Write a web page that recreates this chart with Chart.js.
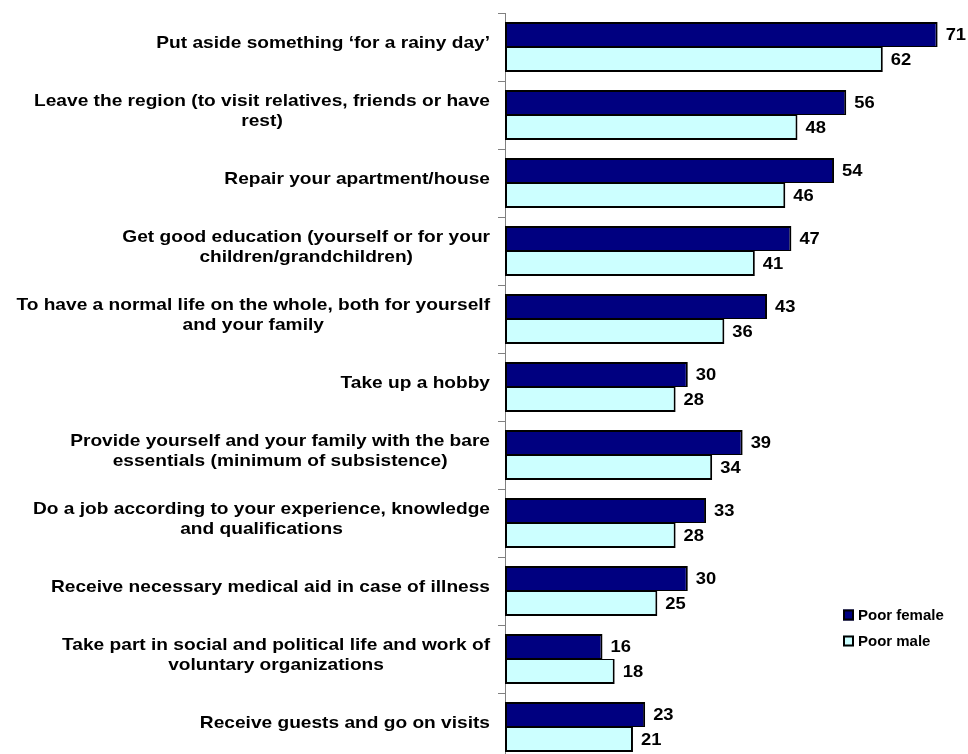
<!DOCTYPE html>
<html>
<head>
<meta charset="utf-8">
<title>Poor female / Poor male</title>
<script src="https://cdn.jsdelivr.net/npm/chart.js@4.4.1/dist/chart.umd.min.js"></script>
<style>
  html, body { margin: 0; padding: 0; background: #ffffff; overflow: hidden; }
  #wrap { position: relative; width: 968px; height: 766px; }
</style>
</head>
<body>
<div id="wrap"><canvas id="chart"></canvas></div>
<script>
// Answer categories (each entry is the list of lines of its label)
const categories = [
  ["Put aside something \u2018for a rainy day\u2019"],
  ["Leave the region (to visit relatives, friends or have", "rest)"],
  ["Repair your apartment/house"],
  ["Get good education (yourself or for your", "children/grandchildren)"],
  ["To have a normal life on the whole, both for yourself", "and your family"],
  ["Take up a hobby"],
  ["Provide yourself and your family with the bare", "essentials (minimum of subsistence)"],
  ["Do a job according to your experience, knowledge", "and qualifications"],
  ["Receive necessary medical aid in case of illness"],
  ["Take part in social and political life and work of", "voluntary organizations"],
  ["Receive guests and go on visits"]
];

const seriesNames = ["Poor female", "Poor male"];
const poorFemale = [71, 56, 54, 47, 43, 30, 39, 33, 30, 16, 23];
const poorMale   = [62, 48, 46, 41, 36, 28, 34, 28, 25, 18, 21];

const FONT = '"Liberation Sans", Arial, sans-serif';
const COLORS = { female: '#000080', male: '#CCFFFF' };

// Text is drawn slightly widened, like the original Excel export
function drawText(ctx, text, x, y, align, sx) {
  ctx.save();
  ctx.translate(x, y);
  ctx.scale(sx, 1);
  ctx.textAlign = align;
  ctx.fillText(text, 0, 0);
  ctx.restore();
}

// Category labels: each block right-aligned against the axis, its lines centred
const categoryLabels = {
  id: 'categoryLabels',
  afterDraw(chart) {
    const ctx = chart.ctx;
    const yScale = chart.scales.y;
    const sx = 1.125, lineH = 20, rightEdge = 490;
    ctx.save();
    ctx.font = 'bold 17px ' + FONT;
    ctx.fillStyle = '#000000';
    ctx.textBaseline = 'middle';
    categories.forEach((lines, i) => {
      const w = Math.max(...lines.map(l => ctx.measureText(l).width)) * sx;
      const cx = rightEdge - w / 2;
      const cy = yScale.getPixelForValue(i) - 4;
      const y0 = cy - (lines.length - 1) * lineH / 2;
      lines.forEach((l, k) => drawText(ctx, l, cx, y0 + k * lineH, 'center', sx));
    });
    ctx.restore();
  }
};

// Value labels at the end of each bar
const valueLabels = {
  id: 'valueLabels',
  afterDatasetsDraw(chart) {
    const ctx = chart.ctx;
    ctx.save();
    ctx.font = 'bold 17px ' + FONT;
    ctx.fillStyle = '#000000';
    ctx.textBaseline = 'middle';
    chart.data.datasets.forEach((ds, di) => {
      chart.getDatasetMeta(di).data.forEach((bar, i) => {
        drawText(ctx, String(ds.data[i]), bar.x + 8, bar.y + 1, 'left', 1.08);
      });
    });
    ctx.restore();
  }
};

// Small legend in the lower right
const boxLegend = {
  id: 'boxLegend',
  afterDraw(chart) {
    const ctx = chart.ctx;
    const x = 843, y = 615, step = 26, box = 11;
    ctx.save();
    ctx.font = 'bold 14px ' + FONT;
    ctx.textBaseline = 'middle';
    chart.data.datasets.forEach((ds, i) => {
      const yy = y + i * step;
      ctx.fillStyle = ds.backgroundColor;
      ctx.fillRect(x, yy - box / 2, box, box);
      ctx.lineWidth = 2;
      ctx.strokeStyle = '#000000';
      ctx.strokeRect(x + 1, yy - box / 2 + 1, box - 2, box - 2);
      ctx.fillStyle = '#000000';
      drawText(ctx, ds.label, x + 15, yy + 1, 'left', 1.07);
    });
    ctx.restore();
  }
};

new Chart(document.getElementById('chart'), {
  type: 'bar',
  data: {
    labels: categories.map(c => c.join(' ')),
    datasets: [
      {
        label: seriesNames[0],
        data: poorFemale,
        backgroundColor: COLORS.female,
        borderColor: '#000000',
        borderWidth: { top: 2, right: 2, bottom: 1, left: 2 },
        borderSkipped: false,
        categoryPercentage: 0.735,
        barPercentage: 1.0
      },
      {
        label: seriesNames[1],
        data: poorMale,
        backgroundColor: COLORS.male,
        borderColor: '#000000',
        borderWidth: { top: 1, right: 2, bottom: 2, left: 2 },
        borderSkipped: false,
        categoryPercentage: 0.735,
        barPercentage: 1.0
      }
    ]
  },
  options: {
    indexAxis: 'y',
    responsive: true,
    maintainAspectRatio: false,
    animation: false,
    layout: { padding: { top: 13, right: 6, bottom: 5, left: 0 } },
    plugins: {
      legend: { display: false },
      tooltip: { enabled: false }
    },
    scales: {
      x: {
        display: false,
        min: 0,
        max: 75
      },
      y: {
        type: 'category',
        offset: true,
        grid: {
          offset: true,
          drawOnChartArea: false,
          drawTicks: true,
          tickLength: 7,
          color: '#808080',
          lineWidth: 1
        },
        border: { display: true, color: '#808080', width: 1 },
        ticks: { display: false },
        afterFit(scale) { scale.width = 505; }
      }
    }
  },
  plugins: [categoryLabels, valueLabels, boxLegend]
});
</script>
</body>
</html>
